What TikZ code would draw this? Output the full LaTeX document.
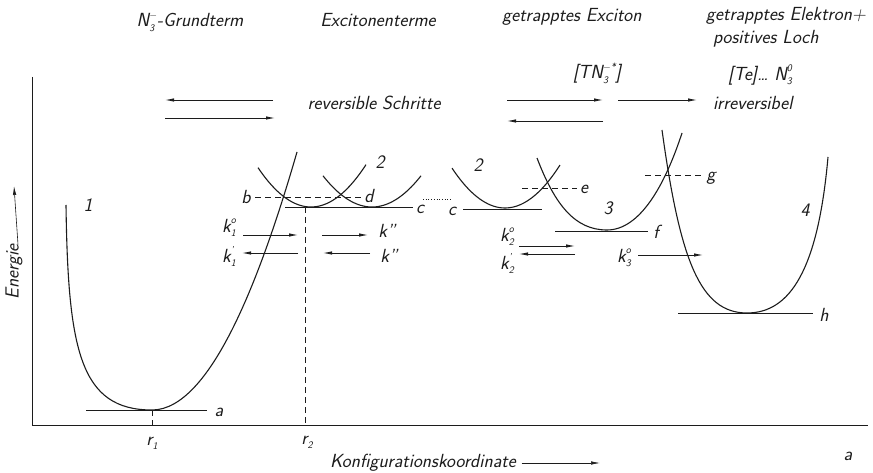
\documentclass[tikz,border=0pt]{standalone}
\usepackage{fontspec}
\usetikzlibrary{arrows.meta}
\definecolor{ink}{RGB}{28,28,28}
\newcommand{\hand}{\sffamily\itshape\fontsize{19}{21}\selectfont\addfontfeatures{LetterSpace=7}}
% base letter with stacked subscript and superscript
\newcommand{\ksym}[3]{#1{\fontsize{10}{10}\selectfont
  \setbox1=\hbox{\raisebox{8.5pt}{#3}}\setbox2=\hbox{\raisebox{-4.5pt}{#2}}%
  \ifdim\wd1>\wd2 \rlap{\box2}\box1\else\rlap{\box1}\box2\fi}}
\tikzset{
  lbl/.style={inner sep=0pt,outer sep=0pt,text=ink,font=\hand},
  curve/.style={draw=ink,line width=1.1pt},
  level/.style={draw=ink,line width=0.9pt},
  guide/.style={draw=ink,line width=0.6pt,dash pattern=on 6pt off 4pt},
  axisline/.style={draw=ink,line width=0.8pt},
  rarr/.style={draw=ink,line width=0.8pt,-{Latex[length=9pt,width=3.4pt]}},
}
\begin{document}
\begin{tikzpicture}[x=1pt,y=-1pt]
\path[use as bounding box] (0,0) rectangle (873,473);
% axes
\draw[axisline] (32,77) -- (32,425) -- (868,425);
\node[lbl,rotate=90] (energie) at (14,272) {Energie};
\coordinate (energietip) at (14,186);
\draw[rarr,line width=0.6pt] ([xshift=4pt]energie.east) -- (energietip);
\node[lbl,anchor=west] (konfig) at (330,463) {Konfigurationskoordinate};
\coordinate (konfigtip) at (600,463);
\draw[rarr,line width=0.6pt] ([xshift=6pt]konfig.east) -- (konfigtip);
\node[lbl] (panel) at (848,456) {a};
\node[lbl] (r1) at (152,443) {\ksym{r}{1}{}};
\node[lbl] (r2) at (307,442) {\ksym{r}{2}{}};
% headings
\node[lbl] (grund) at (190,22) {\ksym{N}{3}{$-$}-Grundterm};
\node[lbl] (exciton) at (378,20) {Excitonenterme};
\node[lbl] (trapped) at (572,17) {getrapptes Exciton};
\node[lbl] (elektron) at (786,16) {getrapptes Elektron+};
\node[lbl,anchor=west] (loch) at (713,39) {positives Loch};
\node[lbl] (tn) at (597,73) {[T\ksym{N}{3}{$-$*}]};
\node[lbl] (te) at (760,75) {[Te]\dots\ \ksym{N}{3}{0}};
\node[lbl] (revers) at (374,103) {reversible Schritte};
\node[lbl,anchor=west] (irrevers) at (713,103) {irreversibel};
% top arrows
\coordinate (ra1) at (273,100); \coordinate (ra2) at (165,100);
\coordinate (ra3) at (165,118); \coordinate (ra4) at (275,118);
\coordinate (rb1) at (507,100); \coordinate (rb2) at (603,100);
\coordinate (rb3) at (603,121); \coordinate (rb4) at (507,121);
\coordinate (ir1) at (618,100); \coordinate (ir2) at (697,100);
\draw[rarr] (ra1) -- (ra2);
\draw[rarr] (ra3) -- (ra4);
\draw[rarr] (rb1) -- (rb2);
\draw[rarr] (rb3) -- (rb4);
\draw[rarr] (ir1) -- (ir2);
% potential curves
\draw[curve] (66,205) .. controls (68,350) and (80,410) .. (152,410)
  .. controls (210,410) and (260,280) .. (297,152);
\draw[curve] plot[domain=258:366,samples=40] (\x,{207-0.014*(\x-311)^2});
\draw[curve] plot[domain=323:421,samples=40] (\x,{207-0.013*(\x-372)^2});
\draw[curve] plot[domain=452:560,samples=40] (\x,{208-0.0142*(\x-505)^2});
\draw[curve] (537,158) .. controls (555,205) and (575,230) .. (607,230)
  .. controls (640,230) and (665,185) .. (682,133);
\draw[curve] (662,130) .. controls (680,260) and (700,313) .. (747,313)
  .. controls (790,313) and (818,270) .. (828,157);
% levels
\draw[level] (86,410) -- (207,410);
\draw[level] (285,207) -- (413,207);
\draw[level] (463,209) -- (542,209);
\draw[level] (555,231) -- (648,231);
\draw[level] (678,313) -- (813,313);
\draw[guide] (255,197) -- (362,197);
\draw[guide] (522,188) -- (577,188);
\draw[guide] (645,175) -- (703,175);
\draw[guide] (152,410) -- (152,425);
\draw[guide] (305,207) -- (305,425);
\draw[draw=ink,line width=0.7pt,dotted] (423,199) -- (452,199);
% curve and level labels
\node[lbl] (c1) at (88,205) {1};
\node[lbl] (c2a) at (380,162) {2};
\node[lbl] (c2b) at (478,165) {2};
\node[lbl] (c3) at (608,208) {3};
\node[lbl] (c4) at (805,210) {4};
\node[lbl] (la) at (219,412) {a};
\node[lbl] (lb) at (246,197) {b};
\node[lbl] (lc1) at (420,209) {c};
\node[lbl] (lc2) at (452,211) {c};
\node[lbl] (ld) at (369,196) {d};
\node[lbl] (le) at (584,189) {e};
\node[lbl] (lf) at (656,232) {f};
\node[lbl] (lg) at (711,178) {g};
\node[lbl] (lh) at (824,315) {h};
% rate arrows
\node[lbl] (k1o) at (229,228) {\ksym{k}{1}{o}};
\node[lbl] (k1p) at (229,257) {\ksym{k}{1}{'}};
\node[lbl] (kpp1) at (387,231) {k''};
\node[lbl] (kpp2) at (389,256) {k''};
\node[lbl] (k2o) at (507,237) {\ksym{k}{2}{o}};
\node[lbl] (k2p) at (507,264) {\ksym{k}{2}{'}};
\node[lbl] (k3o) at (624,258) {\ksym{k}{3}{o}};
\coordinate (k1oS) at (243,235); \coordinate (k1oE) at (298,235);
\coordinate (k1pS) at (298,253); \coordinate (k1pE) at (242,253);
\coordinate (kpp1S) at (322,235); \coordinate (kpp1E) at (368,235);
\coordinate (kpp2S) at (370,253); \coordinate (kpp2E) at (323,253);
\coordinate (k2oS) at (519,246); \coordinate (k2oE) at (575,246);
\coordinate (k2pS) at (575,254); \coordinate (k2pE) at (519,254);
\coordinate (k3oS) at (638,255); \coordinate (k3oE) at (703,255);
\draw[rarr] (k1oS) -- (k1oE);
\draw[rarr] (k1pS) -- (k1pE);
\draw[rarr] (kpp1S) -- (kpp1E);
\draw[rarr] (kpp2S) -- (kpp2E);
\draw[rarr] (k2oS) -- (k2oE);
\draw[rarr] (k2pS) -- (k2pE);
\draw[rarr] (k3oS) -- (k3oE);
\end{tikzpicture}
\end{document}
